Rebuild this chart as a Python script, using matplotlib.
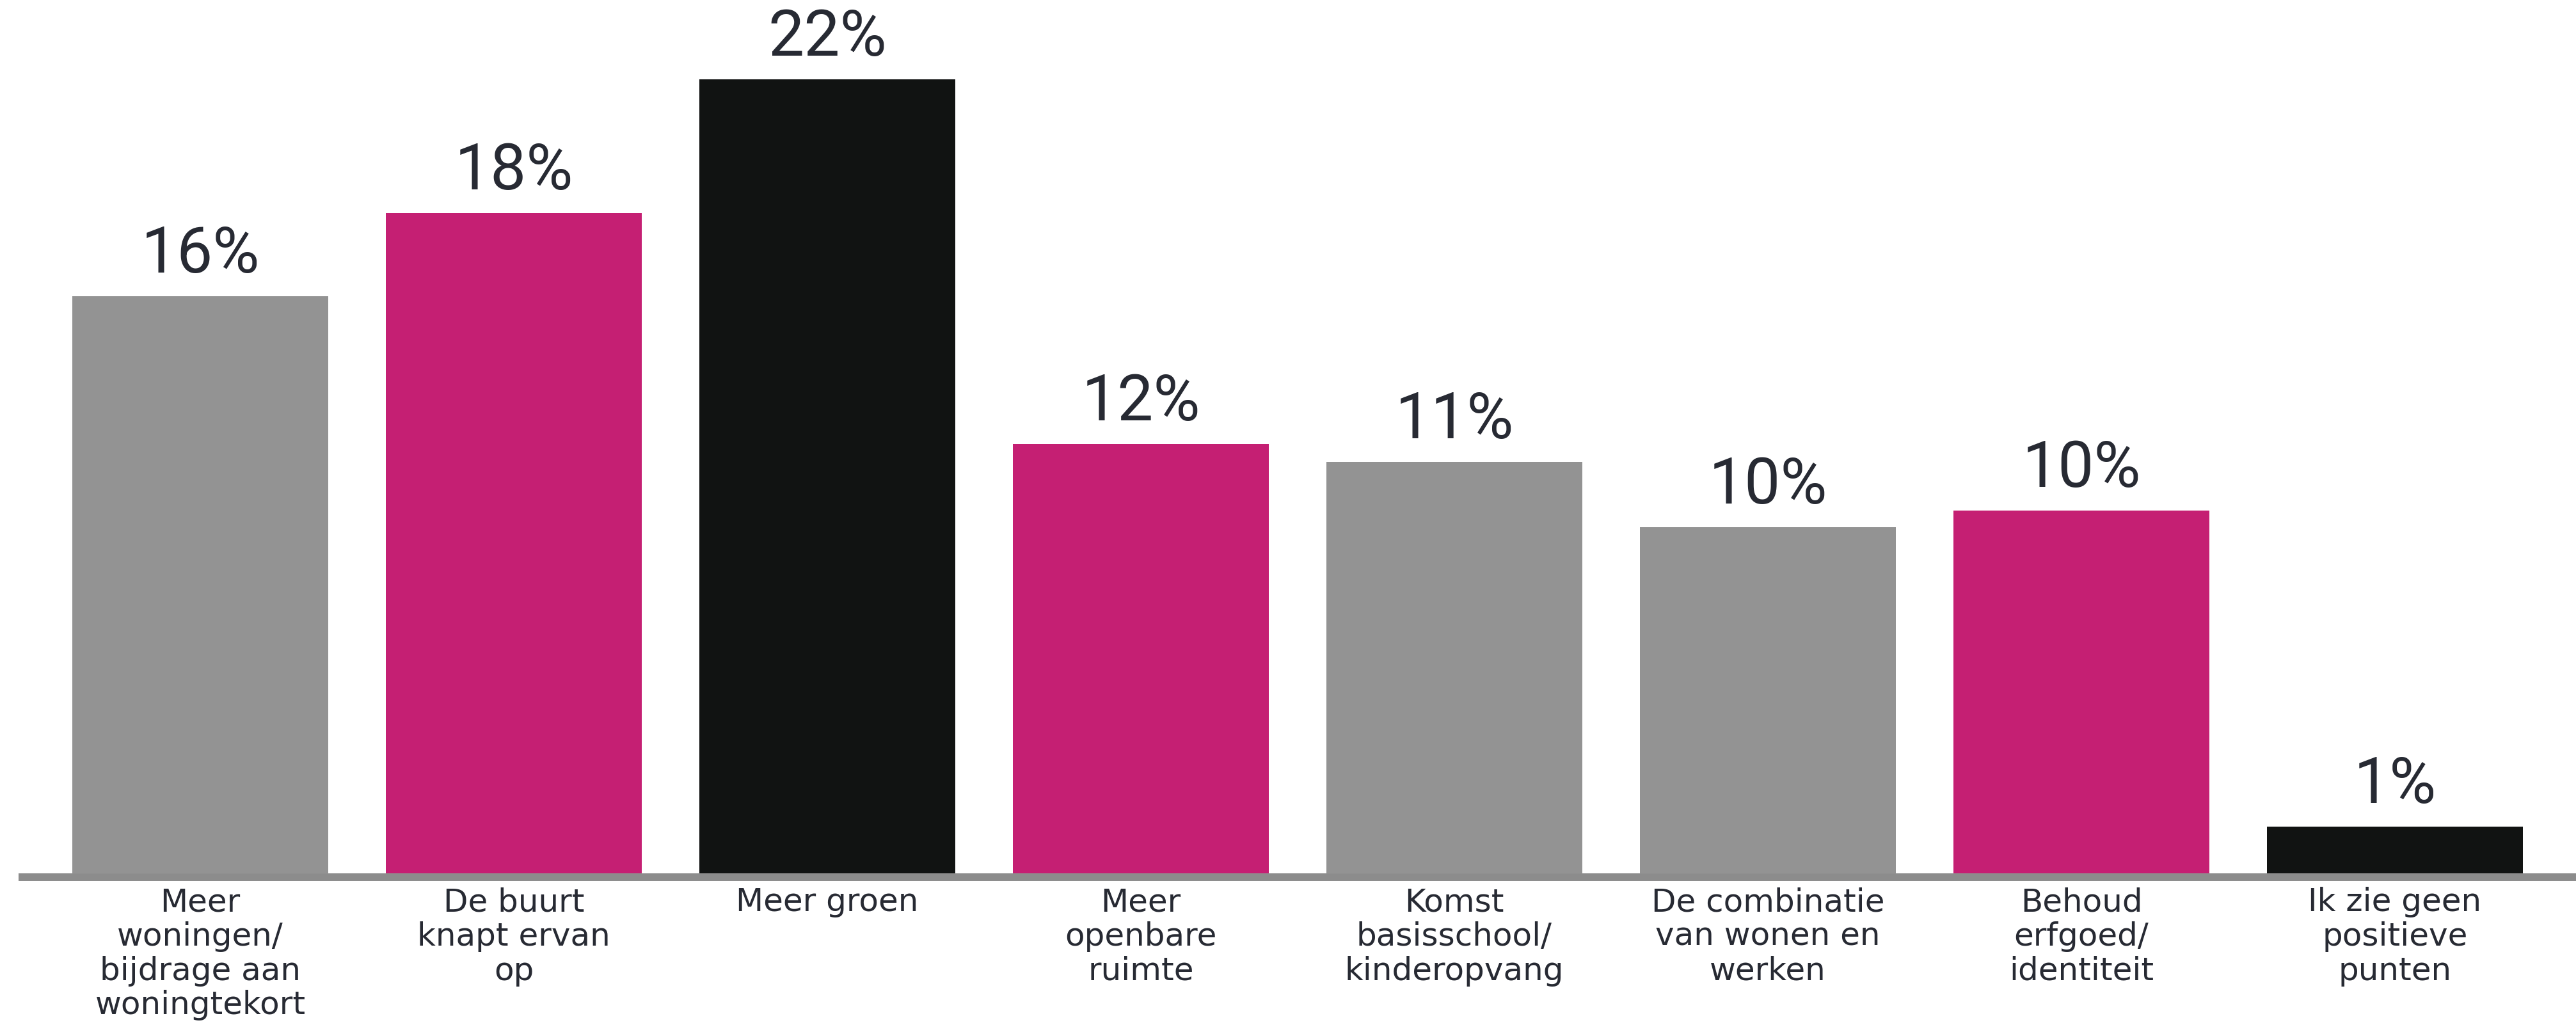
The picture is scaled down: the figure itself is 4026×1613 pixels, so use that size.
import matplotlib.pyplot as plt

# survey answers (share of respondents, %)
categories = [
    "Meer\nwoningen/\nbijdrage aan\nwoningtekort",
    "De buurt\nknapt ervan\nop",
    "Meer groen",
    "Meer\nopenbare\nruimte",
    "Komst\nbasisschool/\nkinderopvang",
    "De combinatie\nvan wonen en\nwerken",
    "Behoud\nerfgoed/\nidentiteit",
    "Ik zie geen\npositieve\npunten",
]
values = [16.0, 18.3, 22.0, 11.9, 11.4, 9.6, 10.05, 1.3]
bar_colors = ["#939393", "#C51F73", "#111312", "#C51F73",
              "#939393", "#939393", "#C51F73", "#111312"]

text_color = "#272A33"

fig = plt.figure(figsize=(40.26, 16.13), dpi=100)
ax = fig.add_axes([0, 248 / 1613, 1, 1365 / 1613])

x = list(range(len(values)))
bars = ax.bar(x, values, width=0.816, color=bar_colors, zorder=2)

for rect, v in zip(bars, values):
    ax.annotate(f"{round(v)}%",
                xy=(rect.get_x() + rect.get_width() / 2, rect.get_height()),
                xytext=(0, 26.5), textcoords="offset points",
                ha="center", va="baseline",
                fontsize=72, family="Roboto", color=text_color)

ax.set_xlim(-313 / 490, (4026 - 313) / 490)
ax.set_ylim(0, 1365 / 56.4)

for side in ["top", "right", "left"]:
    ax.spines[side].set_visible(False)
ax.spines["bottom"].set_color("#8C8C8C")
ax.spines["bottom"].set_linewidth(8.6)
ax.spines["bottom"].set_position(("outward", 4.3))
ax.spines["bottom"].set_bounds((29 - 313) / 490, (4026 - 313) / 490)
ax.spines["bottom"].set_capstyle("butt")

ax.set_yticks([])
ax.set_xticks(x)
ax.set_xticklabels(categories, fontsize=36, family="DejaVu Sans",
                   color=text_color, linespacing=1.15)
ax.tick_params(axis="x", length=0, pad=11)

fig.savefig("out.png", dpi=100)
